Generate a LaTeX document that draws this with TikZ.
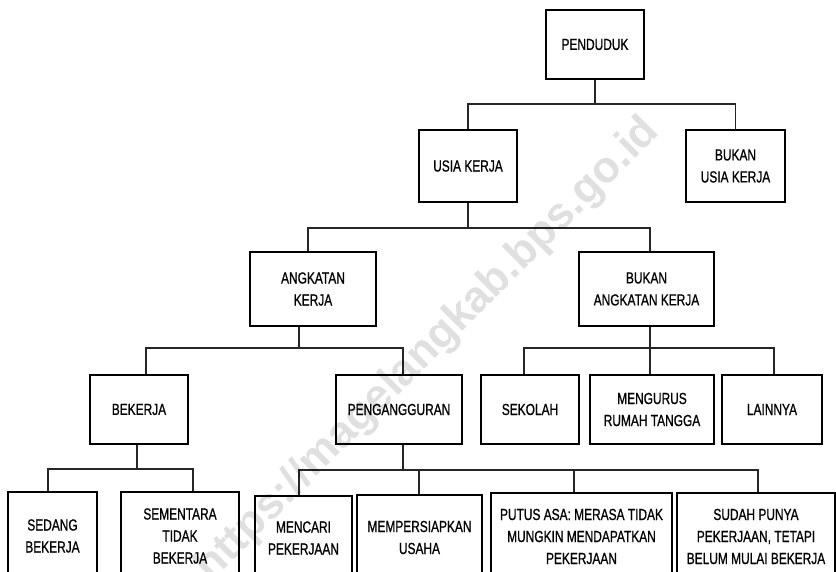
\documentclass[tikz,border=0pt]{standalone}
\usepackage{fontspec}
\setmainfont{Liberation Sans}[FakeStretch=0.745, FakeBold=0.8]
\newfontfamily\wmfont{Liberation Sans}
\usetikzlibrary{backgrounds}
\tikzset{
  box/.style={draw, line width=2.4pt, fill=white, inner sep=0pt, align=center,
    font=\fontsize{16}{22}\selectfont},
  conn/.style={line width=1.2pt, draw=black!85},
  wmark/.style={rotate=45, text=black, opacity=0.12,
    font=\wmfont\bfseries\fontsize{44}{44}\selectfont}
}
\begin{document}
\begin{tikzpicture}[x=1pt,y=-1pt]
\clip (0,0) rectangle (836,572);
% boxes
\node[box, minimum width=98pt, minimum height=69pt] (pen) at (595,44.5) {PENDUDUK};
\node[box, minimum width=98pt, minimum height=72pt] (uk) at (468,166) {USIA KERJA};
\node[box, minimum width=99pt, minimum height=72pt] (buk) at (735.5,166) {BUKAN\\USIA KERJA};
\node[box, minimum width=126pt, minimum height=74pt] (ak) at (313,289) {ANGKATAN\\KERJA};
\node[box, minimum width=135pt, minimum height=74pt] (bak) at (646.5,289) {BUKAN\\ANGKATAN KERJA};
\node[box, minimum width=98pt, minimum height=69pt] (bek) at (139,409.5) {BEKERJA};
\node[box, minimum width=126pt, minimum height=69pt] (peng) at (399,409.5) {PENGANGGURAN};
\node[box, minimum width=98pt, minimum height=69pt] (sek) at (530,409.5) {SEKOLAH};
\node[box, minimum width=124pt, minimum height=69pt] (mrt) at (652,409.5) {MENGURUS\\RUMAH TANGGA};
\node[box, minimum width=100pt, minimum height=69pt] (lain) at (772,409.5) {LAINNYA};
\node[box, minimum width=89pt, minimum height=88pt] (sedang) at (52.5,536) {SEDANG\\BEKERJA};
\node[box, minimum width=118pt, minimum height=88pt] (sem) at (180,536) {SEMENTARA\\TIDAK\\BEKERJA};
\node[box, minimum width=97pt, minimum height=84pt] (mencari) at (303.5,538) {MENCARI\\PEKERJAAN};
\node[box, minimum width=125pt, minimum height=85pt] (memp) at (419.5,537.5) {MEMPERSIAPKAN\\USAHA};
\node[box, minimum width=181pt, minimum height=87pt] (putus) at (581.5,536.5) {PUTUS ASA: MERASA TIDAK\\MUNGKIN MENDAPATKAN\\PEKERJAAN};
\node[box, minimum width=158pt, minimum height=87pt] (sudah) at (756,536.5) {SUDAH PUNYA\\PEKERJAAN, TETAPI\\BELUM MULAI BEKERJA};
% connectors
\begin{scope}[on background layer]
\fill[white] (0,0) rectangle (836,572);
\coordinate (j1) at (595,104);
\draw[conn] (pen.south) -- (j1);
\draw[conn] (uk.north) |- (j1) -| (buk.north);
\coordinate (j2) at (468,228);
\draw[conn] (uk.south) -- (j2);
\draw[conn] ([xshift=-5pt]ak.north) |- (j2) -| ([xshift=3.5pt]bak.north);
\coordinate (j3) at (299,348);
\draw[conn] ([xshift=-14pt]ak.south) -- (j3);
\draw[conn] ([xshift=7pt]bek.north) |- (j3) -| ([xshift=4pt]peng.north);
\coordinate (j4) at (650,348);
\draw[conn] ([xshift=3.5pt]bak.south) -- (j4);
\draw[conn] ([xshift=-6pt]sek.north) |- (j4) -| ([xshift=2pt]lain.north);
\draw[conn] ([xshift=-2pt]mrt.north) -- (j4);
\coordinate (j5) at (137,469);
\draw[conn] ([xshift=-2pt]bek.south) -- (j5);
\draw[conn] ([xshift=-4.5pt]sedang.north) |- (j5) -| ([xshift=13pt]sem.north);
\coordinate (j6) at (403,470);
\draw[conn] ([xshift=4pt]peng.south) -- (j6);
\draw[conn] ([xshift=-4.5pt]mencari.north) |- (j6) -| ([xshift=2pt]sudah.north);
\draw[conn] ([xshift=-0.5pt]memp.north) |- (j6);
\draw[conn] ([xshift=-7.5pt]putus.north) |- (j6);
\end{scope}
% watermark
\node[wmark] (wm) at (428,350) {https://magelangkab.bps.go.id};
\end{tikzpicture}
\end{document}
